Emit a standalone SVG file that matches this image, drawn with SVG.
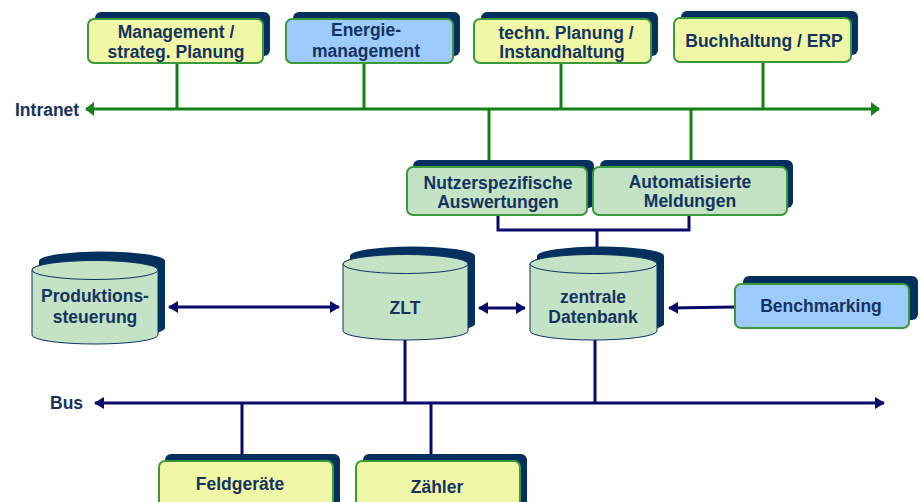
<svg xmlns="http://www.w3.org/2000/svg" width="920" height="502" viewBox="0 0 920 502">
<defs>
<style>
.t{font-family:"Liberation Sans",Arial,sans-serif;font-weight:bold;font-size:17.5px;fill:#15335f;text-anchor:middle}
.lbl{font-family:"Liberation Sans",Arial,sans-serif;font-weight:bold;font-size:17.5px;fill:#15335f}
.sh{fill:#04305f}
.box{stroke:#3a9a3a;stroke-width:2}
.yel{fill:#f0f8a8}
.blu{fill:#9dcbfb}
.grn{fill:#c4e2c4}
.cyl{fill:#c4e2c4;stroke:#0d3166;stroke-width:1}
.gl{stroke:#148214;stroke-width:3;fill:none}
.nl{stroke:#0a0a6a;stroke-width:3;fill:none}
</style>
<marker id="ga" viewBox="0 0 9 14" refX="8" refY="7" markerWidth="9" markerHeight="14" markerUnits="userSpaceOnUse" orient="auto-start-reverse"><path d="M0,0 L9,7 L0,14 Z" fill="#148214"/></marker>
<marker id="na" viewBox="0 0 10 12" refX="9" refY="6" markerWidth="10" markerHeight="12" markerUnits="userSpaceOnUse" orient="auto-start-reverse"><path d="M0,0 L10,6 L0,12 Z" fill="#0a0a6a"/></marker>
</defs>

<g id="connectors">
<line class="gl" x1="86" y1="109" x2="879" y2="109" marker-start="url(#ga)" marker-end="url(#ga)"/>
<line class="gl" x1="177" y1="63" x2="177" y2="109"/>
<line class="gl" x1="364" y1="63" x2="364" y2="109"/>
<line class="gl" x1="561" y1="63" x2="561" y2="109"/>
<line class="gl" x1="763" y1="62" x2="763" y2="109"/>
<line class="gl" x1="489" y1="109" x2="489" y2="161"/>
<line class="gl" x1="691" y1="109" x2="691" y2="161"/>
<path class="nl" d="M498,215 V230 H689 V215"/>
<line class="nl" x1="597" y1="230" x2="597" y2="248"/>
<line class="nl" x1="169" y1="307" x2="339" y2="307" marker-start="url(#na)" marker-end="url(#na)"/>
<line class="nl" x1="479" y1="308" x2="525" y2="308" marker-start="url(#na)" marker-end="url(#na)"/>
<line class="nl" x1="735" y1="307" x2="669" y2="308" marker-end="url(#na)"/>
<line class="nl" x1="95" y1="403" x2="884" y2="403" marker-start="url(#na)" marker-end="url(#na)"/>
<line class="nl" x1="405" y1="338" x2="405" y2="403"/>
<line class="nl" x1="595" y1="338" x2="595" y2="403"/>
<line class="nl" x1="242" y1="403" x2="242" y2="456"/>
<line class="nl" x1="431" y1="403" x2="431" y2="456"/>
</g>

<text class="lbl" x="15" y="116">Intranet</text>
<text class="lbl" x="50" y="409">Bus</text>

<g id="n-management">
<rect class="sh" x="95" y="12" width="175" height="44" rx="6"/>
<rect class="box yel" x="88" y="19" width="175" height="44" rx="6"/>
<text class="t" x="176" y="38">Management /</text>
<text class="t" x="176" y="58">strateg. Planung</text>
</g>
<g id="n-energie">
<rect class="sh" x="293" y="12" width="167" height="44" rx="6"/>
<rect class="box blu" x="286" y="19" width="167" height="44" rx="6"/>
<text class="t" x="366" y="36">Energie-</text>
<text class="t" x="366" y="57">management</text>
</g>
<g id="n-techn">
<rect class="sh" x="481" y="12" width="177" height="44" rx="6"/>
<rect class="box yel" x="474" y="19" width="177" height="44" rx="6"/>
<text class="t" x="566" y="39">techn. Planung /</text>
<text class="t" x="562" y="58">Instandhaltung</text>
</g>
<g id="n-buchhaltung">
<rect class="sh" x="681" y="11" width="177" height="44" rx="6"/>
<rect class="box yel" x="674" y="18" width="177" height="44" rx="6"/>
<text class="t" x="764" y="47">Buchhaltung / ERP</text>
</g>

<g id="n-nutzer">
<rect class="sh" x="413" y="160" width="181" height="48" rx="6"/>
<rect class="box grn" x="407" y="167" width="180" height="48" rx="6"/>
<text class="t" x="498" y="189">Nutzerspezifische</text>
<text class="t" x="498" y="208">Auswertungen</text>
</g>
<g id="n-meldungen">
<rect class="sh" x="600" y="160" width="193" height="48" rx="6"/>
<rect class="box grn" x="593" y="167" width="194" height="48" rx="6"/>
<text class="t" x="690" y="188">Automatisierte</text>
<text class="t" x="690" y="207">Meldungen</text>
</g>

<g id="n-produktion">
<path class="sh" d="M39,261 A63,9.5 0 0 1 165,261 V328 A63,9.5 0 0 1 39,328 Z"/>
<path class="cyl" d="M32,270 A63,9.5 0 0 1 158,270 V335 A63,9 0 0 1 32,335 Z"/>
<ellipse class="cyl" cx="95" cy="270" rx="63" ry="9.5"/>
<text class="t" x="95" y="302">Produktions-</text>
<text class="t" x="95" y="323">steuerung</text>
</g>
<g id="n-zlt">
<path class="sh" d="M350,256 A62.5,9.5 0 0 1 475,256 V324 A62.5,9 0 0 1 350,324 Z"/>
<path class="cyl" d="M343,264 A62.5,9.5 0 0 1 468,264 V331 A62.5,9 0 0 1 343,331 Z"/>
<ellipse class="cyl" cx="405.5" cy="264" rx="62.5" ry="9.5"/>
<text class="t" x="405" y="314">ZLT</text>
</g>
<g id="n-datenbank">
<path class="sh" d="M537,256 A63.5,9.5 0 0 1 664,256 V324 A63.5,9 0 0 1 537,324 Z"/>
<path class="cyl" d="M530,264 A63.5,9.5 0 0 1 657,264 V331 A63.5,9 0 0 1 530,331 Z"/>
<ellipse class="cyl" cx="593.5" cy="264" rx="63.5" ry="9.5"/>
<text class="t" x="593" y="303">zentrale</text>
<text class="t" x="593" y="323">Datenbank</text>
</g>

<g id="n-benchmarking">
<rect class="sh" x="743" y="276" width="175" height="44" rx="6"/>
<rect class="box blu" x="735" y="284" width="174" height="44" rx="6"/>
<text class="t" x="821" y="312">Benchmarking</text>
</g>

<g id="n-feldgeraete">
<rect class="sh" x="165" y="454" width="175" height="60" rx="6"/>
<rect class="box yel" x="159" y="461" width="174" height="60" rx="6"/>
<text class="t" x="240" y="490">Feldgeräte</text>
</g>
<g id="n-zaehler">
<rect class="sh" x="363" y="454" width="164" height="60" rx="6"/>
<rect class="box yel" x="356" y="461" width="164" height="60" rx="6"/>
<text class="t" x="437" y="493">Zähler</text>
</g>
</svg>
